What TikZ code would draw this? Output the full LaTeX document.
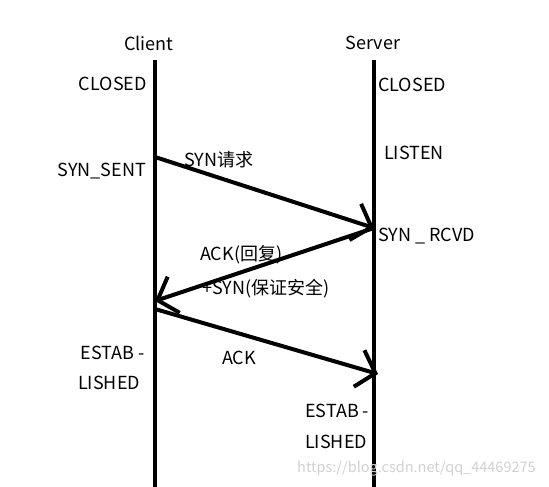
\documentclass[tikz,border=0pt]{standalone}
\usepackage{fontspec}
\setmainfont{Noto Sans CJK SC}
\usetikzlibrary{arrows.meta, positioning}

\begin{document}
\begin{tikzpicture}[
    x=1pt, y=-1pt,
    lifeline/.style={line width=4.5pt},
    msg/.style={line width=4pt, -{Straight Barb[length=17pt, width=38pt, line width=4pt]}},
    state/.style={font=\fontsize{18}{21}\selectfont, inner sep=0pt},
    msglabel/.style={font=\fontsize{18}{21}\selectfont, inner sep=0pt}
]
\useasboundingbox (0,0) rectangle (549,487);

% Lifelines
\coordinate (ctop) at (155,60);
\coordinate (cbot) at (155,487);
\coordinate (stop) at (374,60);
\coordinate (sbot) at (374,487);
\node[state] (client) at (149,43) {Client};
\node[state] (server) at (373,43) {Server};
\draw[lifeline] (ctop) -- (cbot);
\draw[lifeline] (stop) -- (sbot);

% States
\node[state, anchor=east] (cclosed)  at (147,84)  {CLOSED};
\node[state, anchor=east] (csent)    at (146,171) {SYN\_SENT};
\node[state, anchor=east] (cest1)    at (145,353) {ESTAB -};
\node[state, anchor=west] (cest2)    at (78,383)  {LISHED};
\node[state, anchor=west] (sclosed)  at (378,85)  {CLOSED};
\node[state, anchor=west] (slisten)  at (384,153) {LISTEN};
\node[state, anchor=west] (srcvd)    at (378,236) {SYN \_ RCVD};
\node[state, anchor=west] (sest1)    at (305,411) {ESTAB -};
\node[state, anchor=west] (sest2)    at (305,442) {LISHED};

% Messages
\coordinate (synout) at (155,157);
\coordinate (synin)  at (374,228);
\coordinate (ackin)  at (155,301);
\coordinate (ackout) at (155,309);
\coordinate (ackend) at (378,374);
\draw[msg] (synout) -- (synin);
\draw[msg] (synin) -- (ackin);
\draw[msg] (ackout) -- (ackend);

\node[msglabel, anchor=west] (synlbl)  at (184,160) {SYN请求};
\node[msglabel, anchor=west] (acklbl1) at (200,255) {ACK(回复)};
\node[msglabel, anchor=west] (acklbl2) at (202,289) {+SYN(保证安全)};
\node[msglabel, anchor=west] (acklbl3) at (222,358) {ACK};

% Watermark
\node[font=\fontsize{14.5}{17}\selectfont, inner sep=0pt, anchor=west, text=black!18] (mark) at (297,469) {https://blog.csdn.net/qq\_44469275};
\end{tikzpicture}
\end{document}
